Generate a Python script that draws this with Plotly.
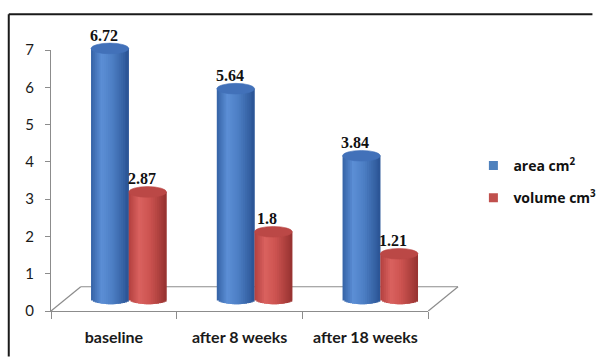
import numpy as np
import plotly.graph_objects as go

# ---------------- data ----------------
categories = ["baseline", "after 8 weeks", "after 18 weeks"]
area_cm2 = [6.72, 5.64, 3.84]
volume_cm3 = [2.87, 1.8, 1.21]
area_labels = ["6.72", "5.64", "3.84"]
volume_labels = ["2.87", "1.8", "1.21"]
series_names = ["<b>area cm<sup>2</sup></b>", "<b>volume cm<sup>3</sup></b>"]
y_ticks = [0, 1, 2, 3, 4, 5, 6, 7]

# ---------------- geometry (pixels) ----------------
W, H = 613, 358
ML, MR, MT, MB = 51, 137, 15, 45
PW = W - ML - MR          # plot width
PH = H - MT - MB          # plot height
FRONT_W, FRONT_H = 393, 269
DX, DY = 31, 25           # depth of the floor
S = FRONT_H / 7.0         # px per unit
EH = 5.5 / S              # half height of cylinder ellipse (data units)
BAR_W = 0.3
N_STRIPS = 20

blue_stops = [(0.0, (52, 98, 165)), (0.28, (92, 143, 214)), (0.55, (78, 128, 198)), (1.0, (42, 84, 148))]
red_stops = [(0.0, (178, 64, 62)), (0.28, (218, 98, 95)), (0.55, (205, 84, 81)), (1.0, (150, 50, 48))]
cap_colors = ["#4271b9", "#bb4846"]
legend_colors = ["#4F81BD", "#C0504D"]


def grad(stops, t):
    for (t0, c0), (t1, c1) in zip(stops[:-1], stops[1:]):
        if t0 <= t <= t1:
            f = (t - t0) / (t1 - t0)
            c = [round(a + (b - a) * f) for a, b in zip(c0, c1)]
            return "rgb(%d,%d,%d)" % tuple(c)
    return "rgb(%d,%d,%d)" % stops[-1][1]


fig = go.Figure()

# invisible trace to define the category axis
fig.add_trace(go.Scatter(x=categories, y=[None] * 3, xaxis="x", yaxis="y",
                         showlegend=False, hoverinfo="skip", mode="markers"))

series = [(area_cm2, -BAR_W / 2, blue_stops), (volume_cm3, BAR_W / 2, red_stops)]
sw = BAR_W / N_STRIPS
shapes = []
for si, (vals, off, stops) in enumerate(series):
    for k in range(N_STRIPS):
        t = (k + 0.5) / N_STRIPS
        e = EH * np.sqrt(max(0.0, 1 - (2 * t - 1) ** 2))
        # each strip starts at its own left edge and overlaps the next strip
        wk = sw * (2 if k < N_STRIPS - 1 else 1)
        xs = [i + off - BAR_W / 2 + k * sw + wk / 2 for i in range(len(categories))]
        fig.add_trace(go.Bar(
            x=xs, y=[v + e for v in vals], base=[-e] * len(vals),
            width=wk, marker=dict(color=grad(stops, t), line=dict(width=0)),
            xaxis="x3", yaxis="y3", showlegend=False, hoverinfo="skip"))
    for i, v in enumerate(vals):
        c = i + off
        shapes.append(dict(type="circle", xref="x3", yref="y3",
                           x0=c - BAR_W / 2, x1=c + BAR_W / 2, y0=v - EH, y1=v + EH,
                           fillcolor=cap_colors[si], line=dict(width=0.6, color=cap_colors[si]),
                           layer="above"))

# legend entries
for si in range(2):
    fig.add_trace(go.Scatter(x=[None], y=[None], mode="markers", name=series_names[si],
                             marker=dict(symbol="square", size=9, color=legend_colors[si]),
                             legendgroup="g%d" % si, xaxis="x", yaxis="y"))

# data labels
annotations = []
for vals, labels, off in [(area_cm2, area_labels, -BAR_W / 2), (volume_cm3, volume_labels, BAR_W / 2)]:
    for i, (v, lab) in enumerate(zip(vals, labels)):
        annotations.append(dict(x=i + off, y=v, xref="x3", yref="y3", text="<b>%s</b>" % lab,
                                showarrow=False, yanchor="middle", xanchor="center",
                                xshift=-6, yshift=13,
                                font=dict(family="Liberation Serif", size=16, color="#111111")))

# floor outline and frame
gray = "#8c8c8c"
px = lambda x: (x - ML) / PW
py = lambda y: (H - MB - y) / PH
floor_pts = [((ML, H - MB), (ML + DX, H - MB - DY)),
             ((ML + FRONT_W, H - MB), (ML + FRONT_W + DX, H - MB - DY)),
             ((ML + DX, H - MB - DY), (ML + FRONT_W + DX, H - MB - DY))]
for (x0, y0), (x1, y1) in floor_pts:
    shapes.append(dict(type="line", xref="paper", yref="paper", x0=px(x0), y0=py(y0),
                       x1=px(x1), y1=py(y1), line=dict(color=gray, width=1.2), layer="below"))
shapes.append(dict(type="line", xref="paper", yref="paper", x0=px(7), x1=px(W + 2), y0=py(7), y1=py(7),
                   line=dict(color="#1a1a1a", width=2)))
shapes.append(dict(type="line", xref="paper", yref="paper", x0=px(7), x1=px(7), y0=py(7), y1=py(H + 2),
                   line=dict(color="#1a1a1a", width=2)))

fig.update_layout(
    width=W, height=H,
    margin=dict(l=ML, r=MR, t=MT, b=MB),
    paper_bgcolor="white", plot_bgcolor="rgba(0,0,0,0)",
    barmode="overlay",
    showlegend=True,
    legend=dict(x=px(491), y=py(147), xanchor="left", yanchor="top",
                font=dict(family="Open Sans", size=14, color="#111111", weight=700),
                tracegroupgap=11, bgcolor="rgba(0,0,0,0)", itemclick=False),
    xaxis=dict(type="category", categoryarray=categories, range=[-0.5, 2.5],
               domain=[0, FRONT_W / PW], anchor="y",
               showline=True, linecolor=gray, linewidth=1.2,
               ticks="outside", ticklen=7, tickcolor=gray, tickson="boundaries",
               showgrid=False, zeroline=False, ticklabelstandoff=12,
               tickfont=dict(family="Lato", size=16, color="#1a1a1a", weight="bold")),
    yaxis=dict(range=[0, 7], domain=[0, FRONT_H / PH], anchor="x",
               tickvals=y_ticks, showline=True, linecolor=gray, linewidth=1.2,
               ticks="outside", ticklen=5, tickcolor=gray, showgrid=False, zeroline=False,
               ticklabelstandoff=8,
               tickfont=dict(family="Lato", size=15, color="#1a1a1a")),
    xaxis3=dict(range=[-0.5, 2.5], domain=[(DX / 2) / PW, (DX / 2 + FRONT_W) / PW], anchor="y3",
                visible=False, fixedrange=True),
    yaxis3=dict(range=[-0.3, 7.4], domain=[(DY / 2 - 0.3 * S) / PH, (DY / 2 + 7.4 * S) / PH],
                anchor="x3", visible=False, fixedrange=True),
    shapes=shapes,
    annotations=annotations,
)

fig.write_html("out.html")
